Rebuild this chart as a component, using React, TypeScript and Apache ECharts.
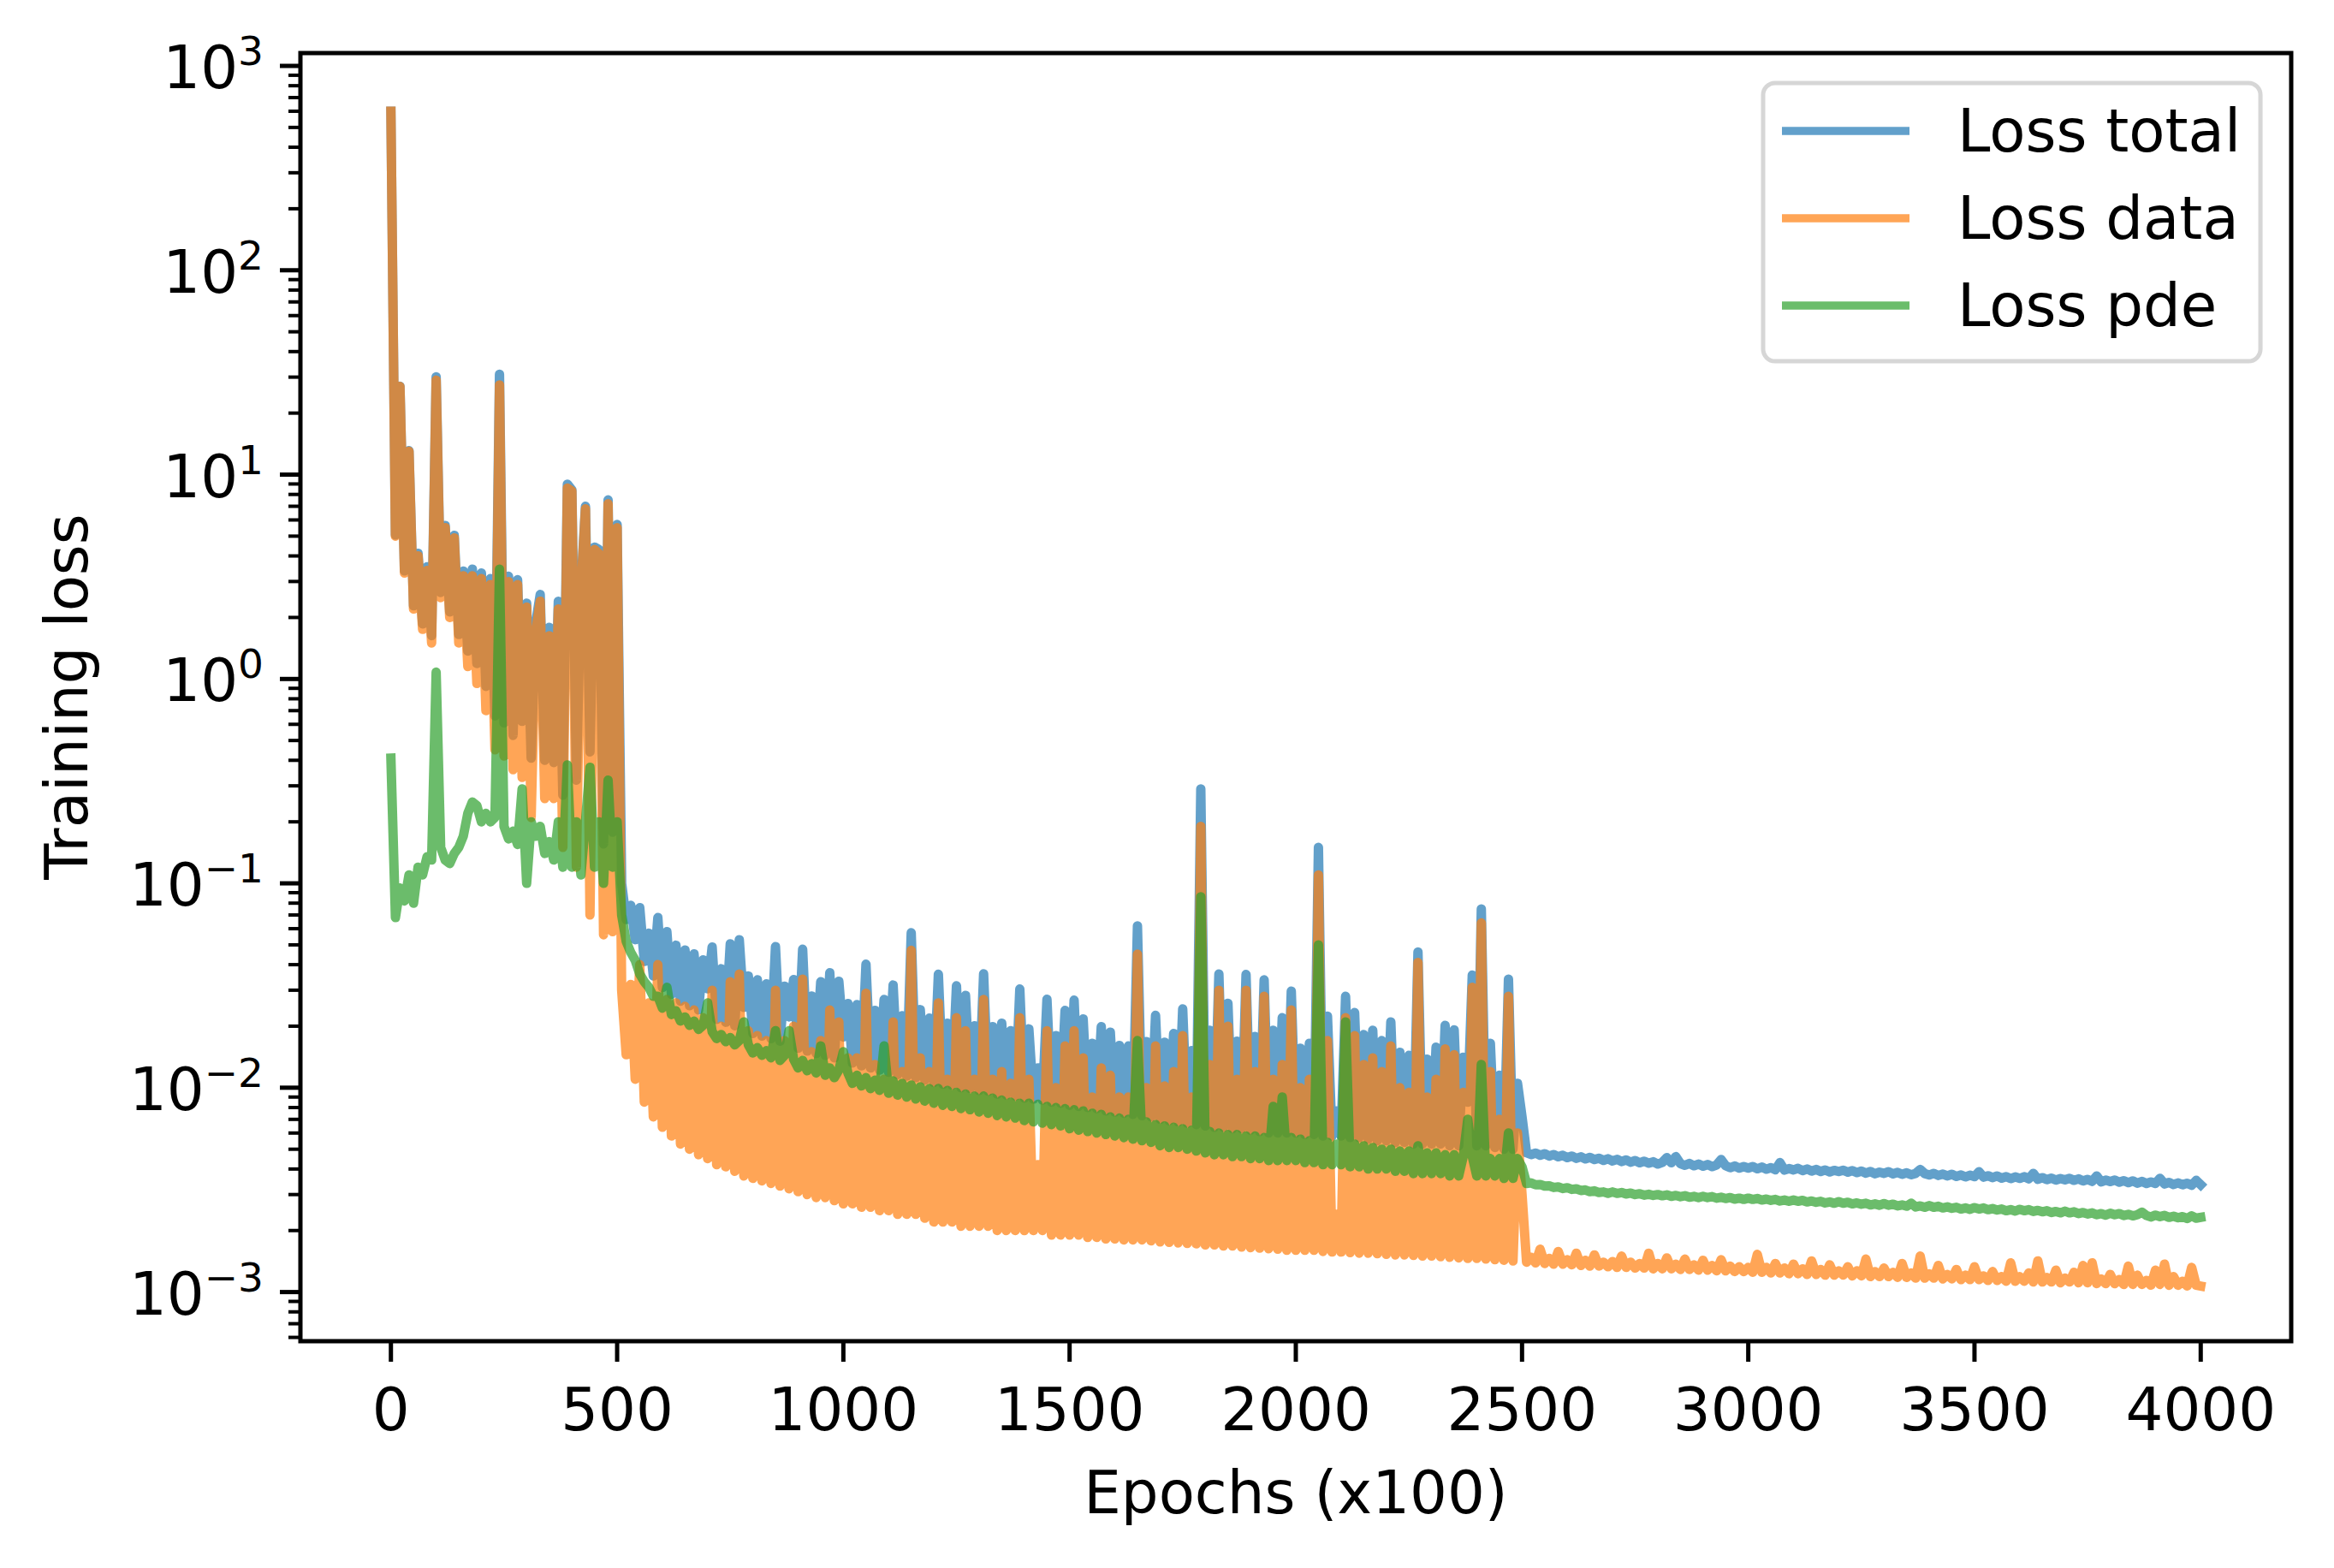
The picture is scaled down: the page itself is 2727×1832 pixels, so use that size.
import React, { useEffect, useRef } from 'react';
import * as echarts from 'echarts';

const FONT = '"DejaVu Sans", "Liberation Sans", sans-serif';
const EPOCH_STEP = 10;

// Loss total (blue), one value every 10 (x100) epochs, 0..4000
const LOSS_TOTAL = [
  600, 5.07, 27.1, 3.38, 13.1, 2.28, 4.12, 1.86, 3.54, 1.63,
  30.1, 2.65, 5.63, 2.13, 5.04, 1.65, 3.37, 1.37, 3.45, 1.19,
  3.3, 0.92, 3.1, 0.66, 31, 0.61, 3.18, 0.53, 3.06, 0.62,
  2.35, 0.41, 1.88, 2.59, 0.4, 1.79, 0.39, 2.4, 0.27, 8.98,
  8.42, 0.32, 2.81, 7.0, 0.44, 4.42, 4.3, 0.156, 7.52, 0.178,
  5.7, 0.1, 0.0665, 0.078, 0.053, 0.076, 0.0415, 0.057, 0.0352, 0.068,
  0.0309, 0.058, 0.0286, 0.0498, 0.0265, 0.0472, 0.0252, 0.0452, 0.024, 0.0422,
  0.0305, 0.0488, 0.0216, 0.0382, 0.0209, 0.0506, 0.0201, 0.053, 0.0247, 0.0352,
  0.0184, 0.0337, 0.0179, 0.0322, 0.0174, 0.049, 0.0169, 0.0314, 0.0222, 0.0338,
  0.0156, 0.0476, 0.0151, 0.0281, 0.0147, 0.033, 0.0144, 0.0365, 0.014, 0.0332,
  0.0177, 0.0258, 0.0132, 0.0255, 0.0128, 0.0402, 0.0125, 0.0239, 0.0122, 0.027,
  0.0119, 0.0318, 0.0116, 0.0225, 0.0114, 0.0573, 0.0112, 0.0241, 0.0109, 0.0219,
  0.0106, 0.0359, 0.0104, 0.0207, 0.0103, 0.0315, 0.01, 0.0283, 0.0099, 0.0201,
  0.0097, 0.0361, 0.0096, 0.0199, 0.0093, 0.0207, 0.0092, 0.019, 0.0091, 0.0304,
  0.0089, 0.0194, 0.0088, 0.0125, 0.0087, 0.0271, 0.0085, 0.018, 0.0084, 0.0239,
  0.0082, 0.0268, 0.0081, 0.0217, 0.008, 0.0165, 0.0079, 0.0199, 0.0077, 0.0187,
  0.0076, 0.0161, 0.0075, 0.016, 0.0074, 0.062, 0.0073, 0.0168, 0.0072, 0.0226,
  0.007, 0.0167, 0.0069, 0.0184, 0.0068, 0.0243, 0.0067, 0.0152, 0.0066, 0.29,
  0.0065, 0.0191, 0.0064, 0.036, 0.0064, 0.0259, 0.0063, 0.0169, 0.0063, 0.0358,
  0.0062, 0.0178, 0.0061, 0.0337, 0.006, 0.0191, 0.006, 0.022, 0.006, 0.0297,
  0.006, 0.0156, 0.0059, 0.0165, 0.0059, 0.15, 0.0058, 0.0224, 0.0058, 0.0077,
  0.0058, 0.028, 0.0057, 0.0233, 0.0057, 0.0182, 0.0056, 0.0191, 0.0055, 0.017,
  0.0055, 0.021, 0.0054, 0.0149, 0.0054, 0.0144, 0.0053, 0.0462, 0.0053, 0.0138,
  0.0053, 0.0158, 0.0053, 0.0202, 0.0052, 0.0192, 0.0052, 0.0141, 0.0085, 0.0356,
  0.0052, 0.075, 0.0052, 0.0165, 0.0051, 0.0115, 0.005, 0.034, 0.005, 0.0105,
  0.0072, 0.0048, 0.00471, 0.00479, 0.00467, 0.00475, 0.00463, 0.00471, 0.00459, 0.00467,
  0.00455, 0.00463, 0.00451, 0.00459, 0.00448, 0.00456, 0.00445, 0.00452, 0.00441, 0.00449,
  0.00438, 0.00446, 0.00435, 0.00443, 0.00432, 0.0044, 0.00429, 0.00437, 0.00427, 0.00434,
  0.00423, 0.00431, 0.00455, 0.00429, 0.0046, 0.00425, 0.00417, 0.00426, 0.00415, 0.00423,
  0.00413, 0.00421, 0.00411, 0.00419, 0.00445, 0.00415, 0.00406, 0.00414, 0.00404, 0.00411,
  0.00404, 0.00411, 0.00401, 0.00409, 0.00399, 0.00406, 0.00397, 0.0043, 0.00395, 0.00402,
  0.00396, 0.00403, 0.00393, 0.004, 0.00391, 0.00398, 0.00389, 0.00396, 0.00387, 0.00394,
  0.00389, 0.00395, 0.00386, 0.00393, 0.00384, 0.00391, 0.00382, 0.00389, 0.00379, 0.00386,
  0.00381, 0.00388, 0.00379, 0.00385, 0.00377, 0.00383, 0.00375, 0.00381, 0.00398, 0.0038,
  0.00374, 0.00381, 0.00372, 0.00378, 0.0037, 0.00377, 0.00368, 0.00374, 0.00366, 0.00373,
  0.00367, 0.00388, 0.00365, 0.00371, 0.00363, 0.0037, 0.00361, 0.00367, 0.00359, 0.00366,
  0.0036, 0.00367, 0.00358, 0.00381, 0.00356, 0.00363, 0.00355, 0.00361, 0.00353, 0.00359,
  0.00354, 0.0036, 0.00352, 0.00358, 0.0035, 0.00356, 0.00348, 0.0037, 0.00346, 0.00353,
  0.00347, 0.00353, 0.00345, 0.00351, 0.00343, 0.0035, 0.00341, 0.00348, 0.0034, 0.00346,
  0.0034, 0.0036, 0.00338, 0.00344, 0.00336, 0.00342, 0.00335, 0.00341, 0.00333, 0.00352,
  0.00335,
];

// Loss data (orange)
const LOSS_DATA = [
  600, 5.0, 27, 3.3, 13, 2.2, 4.0, 1.75, 3.4, 1.5,
  29, 2.5, 5.5, 2.0, 4.9, 1.5, 3.2, 1.15, 3.2, 0.95,
  3.1, 0.7, 2.9, 0.45, 27.5, 0.42, 3.0, 0.36, 2.9, 0.33,
  2.25, 0.21, 1.7, 2.4, 0.26, 1.63, 0.26, 2.2, 0.15, 8.6,
  8.3, 0.12, 2.7, 6.8, 0.07, 4.3, 4.1, 0.056, 7.2, 0.058,
  5.5, 0.03, 0.0145, 0.032, 0.011, 0.04, 0.0085, 0.026, 0.0072, 0.04,
  0.0064, 0.027, 0.0058, 0.026, 0.0053, 0.025, 0.005, 0.024, 0.0047, 0.022,
  0.0045, 0.03, 0.0042, 0.02, 0.0041, 0.033, 0.0039, 0.036, 0.0037, 0.019,
  0.0036, 0.018, 0.0035, 0.017, 0.0034, 0.03, 0.0033, 0.017, 0.0032, 0.02,
  0.0031, 0.034, 0.003, 0.015, 0.0029, 0.017, 0.0029, 0.024, 0.0028, 0.021,
  0.0027, 0.014, 0.0027, 0.014, 0.0026, 0.029, 0.0026, 0.013, 0.0025, 0.011,
  0.0025, 0.021, 0.0024, 0.012, 0.0024, 0.047, 0.0024, 0.014, 0.0023, 0.012,
  0.0022, 0.026, 0.0022, 0.011, 0.0022, 0.022, 0.0021, 0.019, 0.0021, 0.011,
  0.0021, 0.027, 0.0021, 0.011, 0.002, 0.012, 0.002, 0.0105, 0.002, 0.022,
  0.002, 0.011, 0.002, 0.0042, 0.002, 0.019, 0.0019, 0.01, 0.0019, 0.016,
  0.0019, 0.019, 0.0019, 0.014, 0.00185, 0.009, 0.00185, 0.0125, 0.00182, 0.0115,
  0.00182, 0.009, 0.0018, 0.009, 0.0018, 0.045, 0.0018, 0.01, 0.00178, 0.016,
  0.00176, 0.0102, 0.00175, 0.012, 0.00174, 0.018, 0.00173, 0.009, 0.00172, 0.19,
  0.0017, 0.013, 0.0017, 0.03, 0.00168, 0.02, 0.00168, 0.011, 0.00166, 0.03,
  0.00165, 0.012, 0.00164, 0.028, 0.00163, 0.011, 0.00162, 0.013, 0.0016, 0.024,
  0.0016, 0.01, 0.0016, 0.011, 0.0016, 0.11, 0.00158, 0.017, 0.00157, 0.0024,
  0.00157, 0.022, 0.00156, 0.018, 0.00155, 0.013, 0.00155, 0.014, 0.00154, 0.012,
  0.00153, 0.016, 0.00152, 0.01, 0.00152, 0.0095, 0.00151, 0.041, 0.0015, 0.009,
  0.0015, 0.011, 0.00149, 0.0155, 0.00148, 0.0145, 0.00147, 0.0095, 0.00146, 0.031,
  0.00146, 0.064, 0.00145, 0.012, 0.00144, 0.007, 0.00143, 0.028, 0.00142, 0.006,
  0.003, 0.0014, 0.00148, 0.00139, 0.00162, 0.00138, 0.00146, 0.00137, 0.00158, 0.00137,
  0.00144, 0.00136, 0.00155, 0.00135, 0.00143, 0.00134, 0.00152, 0.00134, 0.0014, 0.00133,
  0.00141, 0.00132, 0.0015, 0.00132, 0.0014, 0.00131, 0.00138, 0.00131, 0.00155, 0.0013,
  0.00138, 0.0013, 0.00147, 0.0013, 0.00137, 0.00129, 0.00145, 0.00129, 0.00136, 0.00128,
  0.00143, 0.00128, 0.00135, 0.00127, 0.00144, 0.00127, 0.00134, 0.00126, 0.00133, 0.00126,
  0.00132, 0.00125, 0.00153, 0.00125, 0.00132, 0.00124, 0.00138, 0.00124, 0.00131, 0.00123,
  0.00137, 0.00123, 0.0013, 0.00122, 0.00142, 0.00122, 0.00129, 0.00121, 0.00136, 0.00121,
  0.00127, 0.00121, 0.00133, 0.0012, 0.00127, 0.0012, 0.00145, 0.00119, 0.00126, 0.00119,
  0.00131, 0.00119, 0.00125, 0.00118, 0.00138, 0.00118, 0.00124, 0.00117, 0.0015, 0.00117,
  0.00123, 0.00117, 0.00135, 0.00116, 0.00122, 0.00116, 0.00129, 0.00115, 0.00121, 0.00115,
  0.00133, 0.00115, 0.0012, 0.00114, 0.00126, 0.00114, 0.00119, 0.00113, 0.00139, 0.00113,
  0.00119, 0.00113, 0.00124, 0.00112, 0.00142, 0.00112, 0.00118, 0.00112, 0.00128, 0.00111,
  0.00117, 0.00112, 0.00125, 0.00111, 0.00135, 0.00111, 0.00139, 0.0011, 0.00116, 0.0011,
  0.00122, 0.0011, 0.00115, 0.00109, 0.00134, 0.00109, 0.00121, 0.00109, 0.00114, 0.00108,
  0.00128, 0.00109, 0.00137, 0.00108, 0.00119, 0.00108, 0.00113, 0.00107, 0.00132, 0.00108,
  0.00107,
];

// Loss pde (green)
const LOSS_PDE = [
  0.41, 0.068, 0.095, 0.082, 0.11, 0.08, 0.12, 0.11, 0.135, 0.13,
  1.08, 0.15, 0.13, 0.125, 0.14, 0.15, 0.17, 0.22, 0.25, 0.24,
  0.2, 0.22, 0.2, 0.21, 3.45, 0.19, 0.165, 0.18, 0.155, 0.29,
  0.1, 0.2, 0.17, 0.19, 0.14, 0.16, 0.13, 0.2, 0.12, 0.38,
  0.12, 0.2, 0.11, 0.2, 0.37, 0.12, 0.2, 0.1, 0.32, 0.12,
  0.2, 0.07, 0.052, 0.046, 0.042, 0.036, 0.033, 0.031, 0.028, 0.028,
  0.0245, 0.031, 0.0228, 0.0238, 0.0212, 0.0222, 0.0202, 0.0212, 0.0193, 0.0202,
  0.026, 0.0188, 0.0174, 0.0182, 0.0168, 0.0176, 0.0162, 0.017, 0.021, 0.0162,
  0.0148, 0.0157, 0.0144, 0.0152, 0.014, 0.019, 0.0136, 0.0144, 0.019, 0.0138,
  0.0125, 0.0136, 0.0121, 0.0131, 0.0118, 0.016, 0.0115, 0.0125, 0.0112, 0.0122,
  0.015, 0.0118, 0.0105, 0.0115, 0.0102, 0.0112, 0.0099, 0.0109, 0.0097, 0.016,
  0.0094, 0.0108, 0.0092, 0.0105, 0.009, 0.0103, 0.0088, 0.0101, 0.0086, 0.0099,
  0.0084, 0.0099, 0.0082, 0.0097, 0.0081, 0.0095, 0.0079, 0.0093, 0.0078, 0.0091,
  0.0076, 0.0091, 0.0075, 0.0089, 0.0073, 0.0087, 0.0072, 0.0085, 0.0071, 0.0084,
  0.0069, 0.0084, 0.0068, 0.0083, 0.0067, 0.0081, 0.0066, 0.008, 0.0065, 0.0079,
  0.0063, 0.0078, 0.0062, 0.0077, 0.0061, 0.0075, 0.006, 0.0074, 0.0059, 0.0072,
  0.0058, 0.0071, 0.0057, 0.007, 0.0056, 0.017, 0.0055, 0.0068, 0.0054, 0.0066,
  0.0052, 0.0065, 0.0051, 0.0064, 0.0051, 0.0063, 0.005, 0.0062, 0.0049, 0.086,
  0.0048, 0.0061, 0.0047, 0.006, 0.0047, 0.0059, 0.0046, 0.0059, 0.0046, 0.0058,
  0.0045, 0.0058, 0.0045, 0.0057, 0.0044, 0.0081, 0.0044, 0.009, 0.0044, 0.0057,
  0.0044, 0.0056, 0.0043, 0.0055, 0.0043, 0.05, 0.0042, 0.0054, 0.0042, 0.0053,
  0.0042, 0.021, 0.0041, 0.0053, 0.0041, 0.0052, 0.004, 0.0051, 0.004, 0.005,
  0.004, 0.005, 0.0039, 0.0049, 0.0039, 0.0049, 0.0038, 0.0052, 0.0038, 0.0048,
  0.0038, 0.0048, 0.0038, 0.0047, 0.0037, 0.0047, 0.0037, 0.0046, 0.007, 0.0046,
  0.0037, 0.013, 0.0037, 0.0045, 0.0037, 0.0045, 0.0036, 0.006, 0.0036, 0.0045,
  0.0041, 0.0034, 0.00342, 0.00335, 0.00336, 0.0033, 0.00331, 0.00325, 0.00327, 0.00321,
  0.00324, 0.00318, 0.0032, 0.00314, 0.00316, 0.0031, 0.00313, 0.00307, 0.00309, 0.00304,
  0.00309, 0.00304, 0.00307, 0.00302, 0.00305, 0.003, 0.00303, 0.00298, 0.00301, 0.00297,
  0.003, 0.00296, 0.00299, 0.00294, 0.00297, 0.00293, 0.00296, 0.00291, 0.00294, 0.0029,
  0.00294, 0.0029, 0.00293, 0.00288, 0.00291, 0.00287, 0.0029, 0.00285, 0.00288, 0.00284,
  0.00288, 0.00284, 0.00287, 0.00282, 0.00285, 0.00281, 0.00284, 0.00279, 0.00282, 0.00278,
  0.00282, 0.00278, 0.00281, 0.00276, 0.00279, 0.00275, 0.00278, 0.00273, 0.00276, 0.00272,
  0.00277, 0.00272, 0.00275, 0.0027, 0.00273, 0.00269, 0.00272, 0.00267, 0.0027, 0.00266,
  0.00271, 0.00266, 0.00269, 0.00264, 0.00267, 0.00263, 0.00272, 0.00261, 0.00264, 0.0026,
  0.00265, 0.0026, 0.00263, 0.00258, 0.00261, 0.00257, 0.0026, 0.00255, 0.00258, 0.00254,
  0.00259, 0.00255, 0.00258, 0.00253, 0.00256, 0.00252, 0.00255, 0.0025, 0.00253, 0.00249,
  0.00254, 0.0025, 0.00253, 0.00248, 0.00251, 0.00247, 0.0025, 0.00245, 0.00248, 0.00244,
  0.00249, 0.00244, 0.00247, 0.00242, 0.00245, 0.00241, 0.00244, 0.00239, 0.00242, 0.00238,
  0.00243, 0.00239, 0.00242, 0.00237, 0.0024, 0.00236, 0.00239, 0.00246, 0.00237, 0.00233,
  0.00238, 0.00234, 0.00237, 0.00232, 0.00235, 0.00231, 0.00234, 0.00229, 0.00236, 0.0023,
  0.00232,
];

const EPOCHS = LOSS_TOTAL.map((_, i) => i * EPOCH_STEP);

const SERIES_NAMES = ['Loss total', 'Loss data', 'Loss pde'];
const SERIES_VALUES = [LOSS_TOTAL, LOSS_DATA, LOSS_PDE];
const SERIES_COLORS = ['#1f77b4', '#ff7f0e', '#2ca02c'];
const LEGEND_COLORS = ['#62a0cb', '#ffa556', '#6bbd6b'];

const X_MIN = -200;
const X_MAX = 4200;
const Y_MIN = Math.pow(10, -3.2404);
const Y_MAX = Math.pow(10, 3.0628);
const X_TICKS = [0, 500, 1000, 1500, 2000, 2500, 3000, 3500, 4000];
const Y_MAJOR_EXP = [-3, -2, -1, 0, 1, 2, 3];
const Y_MINOR_MULT = [2, 3, 4, 5, 6, 7, 8, 9];

const X_TITLE = 'Epochs (x100)';
const Y_TITLE = 'Training loss';

function buildTicks() {
  const rows: number[][] = [];
  Y_MAJOR_EXP.forEach((e) => rows.push([X_MIN, Math.pow(10, e), 0, e]));
  for (let e = -4; e <= 3; e++) {
    Y_MINOR_MULT.forEach((m) => {
      const v = m * Math.pow(10, e);
      if (v > Y_MIN && v < Y_MAX) rows.push([X_MIN, v, 1, 0]);
    });
  }
  X_TICKS.forEach((t) => rows.push([t, Y_MIN, 2, t]));
  return rows;
}

function buildOption() {
  const lineSeries = SERIES_NAMES.map((name, k) => ({
    name,
    type: 'line',
    data: EPOCHS.map((e, i) => [e, SERIES_VALUES[k][i]]),
    showSymbol: false,
    symbol: 'none',
    color: SERIES_COLORS[k],
    lineStyle: { width: 11, color: SERIES_COLORS[k], opacity: 0.7, join: 'round', cap: 'square' },
    emphasis: { disabled: true },
    silent: true,
    z: 2,
  }));

  const tickSeries = {
    type: 'custom',
    silent: true,
    clip: false,
    z: 5,
    data: buildTicks(),
    encode: { x: 0, y: 1 },
    renderItem: (params: any, api: any) => {
      const kind = api.value(2);
      const p = api.coord([api.value(0), api.value(1)]);
      if (kind === 0) {
        const e = api.value(3);
        const sup = e < 0 ? '\u2212' + Math.abs(e) : String(e);
        return {
          type: 'group',
          children: [
            { type: 'line', shape: { x1: p[0] - 24, y1: p[1], x2: p[0], y2: p[1] }, style: { stroke: '#000', lineWidth: 5 } },
            {
              type: 'text',
              x: p[0] - 43,
              y: p[1] + 2,
              style: {
                text: '{b|10}{s|' + sup + '}',
                align: 'right',
                verticalAlign: 'middle',
                textAlign: 'right',
                textVerticalAlign: 'middle',
                fill: '#000',
                rich: {
                  b: { fontSize: 69, fontFamily: FONT, lineHeight: 86, fill: '#000' },
                  s: { fontSize: 47, fontFamily: FONT, lineHeight: 47, verticalAlign: 'top', fill: '#000' },
                },
              },
            },
          ],
        };
      }
      if (kind === 1) {
        return { type: 'line', shape: { x1: p[0] - 14, y1: p[1], x2: p[0], y2: p[1] }, style: { stroke: '#000', lineWidth: 4 } };
      }
      return {
        type: 'group',
        children: [
          { type: 'line', shape: { x1: p[0], y1: p[1], x2: p[0], y2: p[1] + 24 }, style: { stroke: '#000', lineWidth: 5 } },
          {
            type: 'text',
            x: p[0],
            y: p[1] + 80,
            style: {
              text: String(api.value(3)),
              align: 'center',
              verticalAlign: 'middle',
              textAlign: 'center',
              textVerticalAlign: 'middle',
              fontSize: 69,
              fontFamily: FONT,
              fill: '#000',
            },
          },
        ],
      };
    },
  };

  return {
    animation: false,
    backgroundColor: '#ffffff',
    grid: {
      left: 351,
      top: 62,
      right: 50,
      bottom: 265,
      show: true,
      borderColor: '#000000',
      borderWidth: 5,
      backgroundColor: 'transparent',
    },
    xAxis: {
      type: 'value',
      min: X_MIN,
      max: X_MAX,
      axisLine: { show: false },
      axisTick: { show: false },
      axisLabel: { show: false },
      splitLine: { show: false },
    },
    yAxis: {
      type: 'log',
      logBase: 10,
      min: Y_MIN,
      max: Y_MAX,
      axisLine: { show: false },
      axisTick: { show: false },
      axisLabel: { show: false },
      splitLine: { show: false },
      minorTick: { show: false },
    },
    legend: {
      orient: 'vertical',
      left: 2060,
      top: 97,
      selectedMode: false,
      icon: 'rect',
      itemWidth: 149,
      itemHeight: 9.5,
      itemGap: 22,
      padding: [16, 23, 25, 22],
      backgroundColor: 'rgba(255,255,255,0.8)',
      borderColor: '#d6d6d6',
      borderWidth: 5,
      borderRadius: 14,
      itemStyle: { borderWidth: 0, opacity: 1 },
      textStyle: { fontSize: 69, fontFamily: FONT, color: '#000', lineHeight: 80, padding: [0, 0, 0, 51] },
      data: SERIES_NAMES.map((name, k) => ({ name, itemStyle: { color: LEGEND_COLORS[k], opacity: 1 } })),
    },
    graphic: [
      {
        type: 'text',
        x: 1514,
        y: 1744,
        style: {
          text: X_TITLE,
          fontSize: 69,
          fontFamily: FONT,
          fill: '#000',
          align: 'center',
          verticalAlign: 'middle',
          textAlign: 'center',
          textVerticalAlign: 'middle',
        },
      },
      {
        type: 'text',
        x: 78,
        y: 814,
        rotation: Math.PI / 2,
        style: {
          text: Y_TITLE,
          fontSize: 69,
          fontFamily: FONT,
          fill: '#000',
          align: 'center',
          verticalAlign: 'middle',
          textAlign: 'center',
          textVerticalAlign: 'middle',
        },
      },
    ],
    series: [...lineSeries, tickSeries],
  };
}

export default function App() {
  const ref = useRef<HTMLDivElement>(null);
  useEffect(() => {
    if (!ref.current) return;
    const chart = echarts.init(ref.current, null, { renderer: 'svg' });
    chart.setOption(buildOption() as any);
    return () => chart.dispose();
  }, []);
  return (
    <div
      ref={ref}
      style={{ position: 'absolute', left: 0, top: 0, width: 2727, height: 1832, background: '#ffffff' }}
    />
  );
}
